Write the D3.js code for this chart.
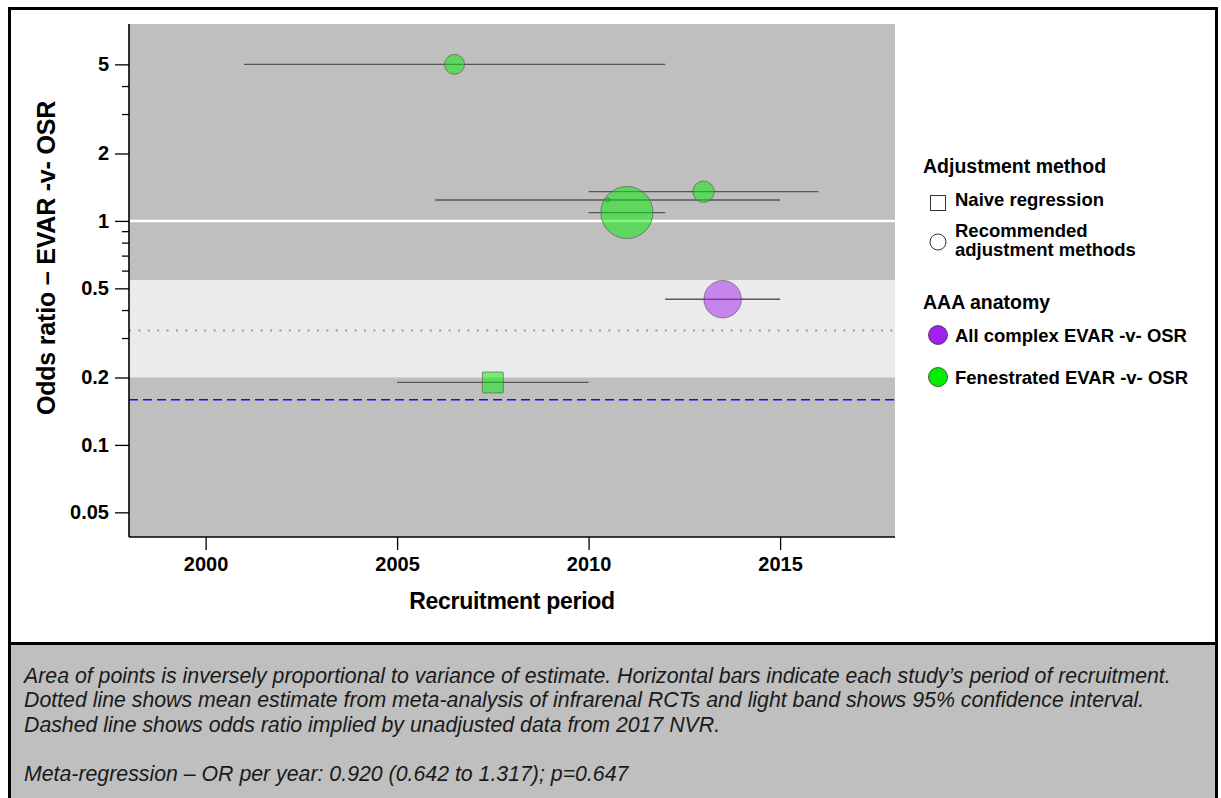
<!DOCTYPE html>
<html>
<head>
<meta charset="utf-8">
<script src="https://cdn.jsdelivr.net/npm/d3@7"></script>
<style>
  html, body { margin: 0; padding: 0; background: #ffffff; }
  svg { display: block; font-family: "Liberation Sans", Arial, sans-serif; }
</style>
</head>
<body>
<svg id="chart" width="1221" height="798"></svg>
<script>
// ---------- DATA ----------
const studyStart  = [2001, 2010, 2010, 2006, 2012, 2005];
const studyEnd    = [2012, 2016, 2012, 2015, 2015, 2010];
const oddsRatio   = [5.0, 1.35, 1.09, 1.24, 0.447, 0.19];
const weight      = [1.0, 1.15, 6.8, 0.04, 3.5, 1.1];   // relative inverse variance (area)
const method      = ["rec", "rec", "rec", "rec", "rec", "naive"];
const anatomy     = ["fen", "fen", "fen", "fen", "all", "fen"];

const xTicks      = [2000, 2005, 2010, 2015];
const yTicks      = [0.05, 0.1, 0.2, 0.5, 1, 2, 5];
const yTickLabels = ["0.05", "0.1", "0.2", "0.5", "1", "2", "5"];
const yMinorTicks = [4, 3, 0.9, 0.8, 0.7, 0.6, 0.4, 0.3];

const metaMean    = 0.324;          // dotted line
const metaCI      = [0.2, 0.545];   // light band
const nvrOR       = 0.159;          // dashed line
const nullOR      = 1;

const legendMethodLabels  = ["Naive regression", ["Recommended", "adjustment methods"]];
const legendAnatomyLabels = ["All complex EVAR -v- OSR", "Fenestrated EVAR -v- OSR"];
const anatomyColor = { all: "#a020f0", fen: "#00ee00" };

const footnoteLines = [
  "Area of points is inversely proportional to variance of estimate. Horizontal bars indicate each study\u2019s period of recruitment.",
  "Dotted line shows mean estimate from meta-analysis of infrarenal RCTs and light band shows 95% confidence interval.",
  "Dashed line shows odds ratio implied by unadjusted data from 2017 NVR.",
  "",
  "Meta-regression \u2013 OR per year: 0.920 (0.642 to 1.317); p=0.647"
];

// ---------- LAYOUT ----------
const svg = d3.select("#chart");
const plot = { left: 129, top: 24, right: 895, bottom: 537 };

// outer frame + footer
svg.append("rect").attr("x", 9.5).attr("y", 8.5).attr("width", 1207).attr("height", 820)
  .attr("fill", "#ffffff").attr("stroke", "#000").attr("stroke-width", 3);
svg.append("rect").attr("x", 9.5).attr("y", 643.5).attr("width", 1207).attr("height", 200)
  .attr("fill", "#bfbfbf").attr("stroke", "#000").attr("stroke-width", 3);

const x = d3.scaleLinear().domain([1998, 2018]).range([plot.left, plot.right]);
const y = d3.scaleLog().domain([0.0388, 7.57]).range([plot.bottom, plot.top]);
const r = d3.scaleSqrt().domain([0, 1]).range([0, 10]);

// plot background
svg.append("rect").attr("x", plot.left).attr("y", plot.top)
  .attr("width", plot.right - plot.left).attr("height", plot.bottom - plot.top)
  .attr("fill", "#bfbfbf");

// CI band
svg.append("rect").attr("x", plot.left).attr("y", y(metaCI[1]))
  .attr("width", plot.right - plot.left).attr("height", y(metaCI[0]) - y(metaCI[1]))
  .attr("fill", "#ebebeb");

// null line
svg.append("line").attr("x1", plot.left).attr("x2", plot.right)
  .attr("y1", y(nullOR)).attr("y2", y(nullOR))
  .attr("stroke", "#ffffff").attr("stroke-width", 2.5);

// dotted mean line
svg.append("line").attr("x1", plot.left).attr("x2", plot.right)
  .attr("y1", y(metaMean)).attr("y2", y(metaMean))
  .attr("stroke", "#9a9a9a").attr("stroke-width", 2).attr("stroke-dasharray", "2,7.4");

// dashed NVR line
svg.append("line").attr("x1", plot.left).attr("x2", plot.right)
  .attr("y1", y(nvrOR)).attr("y2", y(nvrOR))
  .attr("stroke", "#1010ee").attr("stroke-width", 1.6).attr("stroke-dasharray", "9,5");

// data
const data = studyStart.map((s, i) => ({
  start: s, end: studyEnd[i], or: oddsRatio[i], w: weight[i],
  method: method[i], anatomy: anatomy[i], mid: (s + studyEnd[i]) / 2
}));

// recruitment bars
svg.append("g").selectAll("line").data(data).join("line")
  .attr("x1", d => x(d.start)).attr("x2", d => x(d.end))
  .attr("y1", d => y(d.or)).attr("y2", d => y(d.or))
  .attr("stroke", "#4a4a4a").attr("stroke-width", 1.3).attr("stroke-opacity", 0.9);

// points (largest first)
const pts = svg.append("g").selectAll("g").data(data.slice().sort((a, b) => b.w - a.w)).join("g");
pts.filter(d => d.method === "rec").append("circle")
  .attr("cx", d => x(d.mid)).attr("cy", d => y(d.or)).attr("r", d => r(d.w))
  .attr("fill", d => anatomyColor[d.anatomy]).attr("fill-opacity", 0.5)
  .attr("stroke", "#505050").attr("stroke-opacity", 0.6).attr("stroke-width", 1);
pts.filter(d => d.method === "naive").append("rect")
  .attr("x", d => x(d.mid) - r(d.w)).attr("y", d => y(d.or) - r(d.w))
  .attr("width", d => 2 * r(d.w)).attr("height", d => 2 * r(d.w)).attr("rx", 1)
  .attr("fill", d => anatomyColor[d.anatomy]).attr("fill-opacity", 0.5)
  .attr("stroke", "#505050").attr("stroke-opacity", 0.6).attr("stroke-width", 1);

// axes
const yAxis = svg.append("g").attr("transform", `translate(${plot.left},0)`)
  .call(d3.axisLeft(y).tickValues(yTicks).tickFormat((d, i) => yTickLabels[i]).tickSize(14).tickPadding(6));
const yMinor = svg.append("g").attr("transform", `translate(${plot.left},0)`)
  .call(d3.axisLeft(y).tickValues(yMinorTicks).tickFormat("").tickSize(7));
yMinor.select(".domain").remove();
const xAxis = svg.append("g").attr("transform", `translate(0,${plot.bottom})`)
  .call(d3.axisBottom(x).tickValues(xTicks).tickFormat(d3.format("d")).tickSize(13).tickPadding(7));

[yAxis, yMinor, xAxis].forEach(g => {
  g.select(".domain").attr("stroke", "#000").attr("stroke-width", 1.6);
  g.selectAll(".tick line").attr("stroke", "#000").attr("stroke-width", 1.3);
  g.selectAll("text").attr("fill", "#000").style("font-size", "20px").style("font-weight", "bold")
    .style("font-family", "'Liberation Sans', Arial, sans-serif");
});
xAxis.select(".domain").attr("d", `M${plot.left},0H${plot.right}`);
yAxis.select(".domain").attr("d", `M0,${plot.top}V${plot.bottom}`);

// axis titles
svg.append("text").attr("x", 512).attr("y", 609).attr("text-anchor", "middle")
  .style("font-size", "23px").style("font-weight", "bold").attr("letter-spacing", "-0.3")
  .text("Recruitment period");
svg.append("text").attr("transform", "translate(55,258) rotate(-90)").attr("text-anchor", "middle")
  .style("font-size", "25px").style("font-weight", "bold").attr("letter-spacing", "-0.2")
  .text("Odds ratio \u2013 EVAR -v- OSR");

// legend
const lg = svg.append("g").style("font-size", "18.5px").attr("fill", "#000");
lg.append("text").attr("x", 923).attr("y", 173).style("font-weight", "bold").style("font-size", "19.5px")
  .text("Adjustment method");
lg.append("rect").attr("x", 930.5).attr("y", 195.5).attr("width", 15).attr("height", 15)
  .attr("fill", "#fff").attr("stroke", "#333").attr("stroke-width", 1);
lg.append("text").attr("x", 955).attr("y", 206).style("font-weight", "bold").text(legendMethodLabels[0]);
lg.append("circle").attr("cx", 938).attr("cy", 242).attr("r", 8)
  .attr("fill", "#fff").attr("stroke", "#333").attr("stroke-width", 1);
lg.append("text").attr("x", 955).attr("y", 237).style("font-weight", "bold").text(legendMethodLabels[1][0]);
lg.append("text").attr("x", 955).attr("y", 256).style("font-weight", "bold").text(legendMethodLabels[1][1]);

lg.append("text").attr("x", 923).attr("y", 309).style("font-weight", "bold").style("font-size", "19.5px")
  .text("AAA anatomy");
["all", "fen"].forEach((k, i) => {
  const cy = 335 + i * 42;
  lg.append("circle").attr("cx", 938).attr("cy", cy).attr("r", 9.5)
    .attr("fill", anatomyColor[k]).attr("stroke", "#333").attr("stroke-width", 0.8);
  lg.append("text").attr("x", 955).attr("y", cy + 7).style("font-weight", "bold").text(legendAnatomyLabels[i]);
});

// footnote
const fn = svg.append("g").style("font-size", "21.3px").style("font-style", "italic").attr("fill", "#1a1a1a");
footnoteLines.forEach((t, i) => {
  fn.append("text").attr("x", 24).attr("y", 683 + i * 24.4).text(t);
});
</script>
</body>
</html>
